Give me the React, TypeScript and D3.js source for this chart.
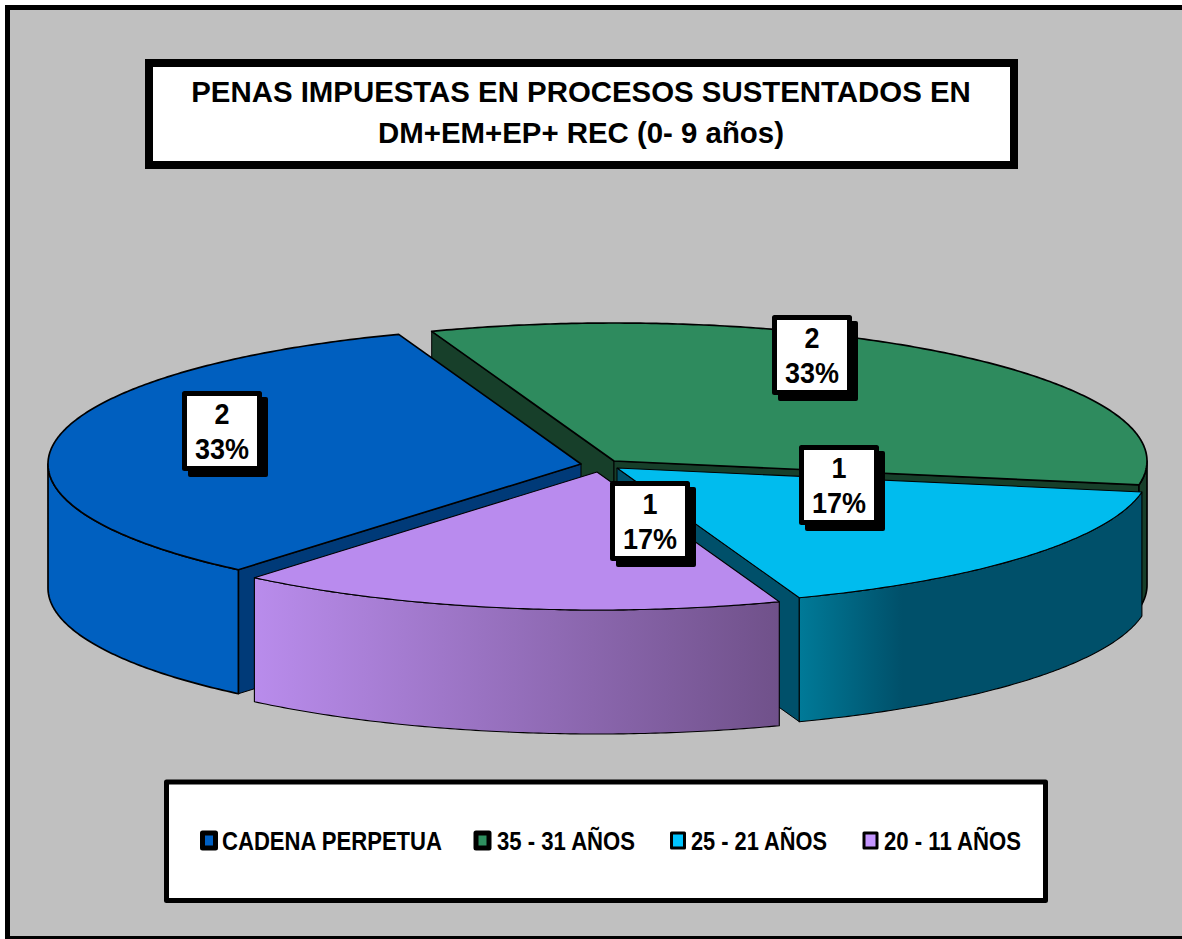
import React from "react";
import * as d3 from "d3";

const categories = ["CADENA PERPETUA", "35 - 31 AÑOS", "25 - 21 AÑOS", "20 - 11 AÑOS"];
const values = [2, 2, 1, 1];
const percentLabels = ["33%", "33%", "17%", "17%"];
const titleLines = ["PENAS IMPUESTAS EN PROCESOS SUSTENTADOS EN", "DM+EM+EP+ REC (0- 9 años)"];

const topColors = ["#005fbf", "#2e8b5e", "#00bcee", "#b98bee"];
const faceColors = ["#003a78", "#173f2a", "#00506a", "#715288"];
const legendColors = ["#0060c4", "#2f8f60", "#00c4ff", "#c596ff"];
const wallStops: [string, string][] = [["#0060c0", "#0060c0"], ["#173f2a", "#173f2a"], ["#007a98", "#00506a"], ["#b98cec", "#70518a"]];
const wallStopEnd = [1, 1, 0.3, 1];
const edgeWidths = [1.7, 1.7, 1.1, 1.1];

const apexes: [number, number][] = [[581, 464], [614, 461], [617, 468], [597, 472]];
const labelBoxes: [number, number][] = [[182, 391], [772, 315], [799, 445], [610, 481]];
const legendMarks = [200.5, 474, 669.5, 862];
const legendTexts: [number, number][] = [[222, 442], [497, 635], [691, 827], [884, 1021]];

const RX = 533, RY = 138, DEPTH = 124;
const pie = d3.pie<number>().sort(null).startAngle((220 * Math.PI) / 180).endAngle((580 * Math.PI) / 180);
const arcs = pie(values);
const lineGen = d3.line<[number, number]>().x(d => d[0]).y(d => d[1]);

const rimPoint = (i: number, a: number, dz = 0): [number, number] => [
  apexes[i][0] + RX * Math.sin(a),
  apexes[i][1] - RY * Math.cos(a) + dz,
];
const sample = (a0: number, a1: number) => {
  const n = Math.max(2, Math.ceil(Math.abs(a1 - a0) / 0.01));
  return d3.range(n + 1).map(k => a0 + ((a1 - a0) * k) / n);
};
const closed = (pts: [number, number][]) => lineGen(pts) + "Z";

const FONT = "'Liberation Sans', Arial, sans-serif";

function Slice({ i }: { i: number }) {
  const { startAngle: s, endAngle: e } = arcs[i];
  const top = closed([apexes[i], ...sample(s, e).map(a => rimPoint(i, a))]);
  const faces: string[] = [];
  const face = (a: number) => {
    const p = rimPoint(i, a);
    faces.push(closed([apexes[i], p, [p[0], p[1] + DEPTH], [apexes[i][0], apexes[i][1] + DEPTH]]));
  };
  if (Math.sin(s) < 0) face(s);
  if (Math.sin(e) > 0) face(e);

  // outer wall: the part of the rim facing down on the screen
  const lo = Math.PI / 2, hi = (3 * Math.PI) / 2;
  const walls: [number, number][] = [];
  [0, 2 * Math.PI].forEach(shift => {
    const a0 = Math.max(s, lo + shift), a1 = Math.min(e, hi + shift);
    if (a1 > a0) walls.push([a0, a1]);
  });
  return (
    <g>
      {faces.map((d, k) => (
        <path key={k} d={d} fill={faceColors[i]} stroke="#000" strokeWidth={1} strokeLinejoin="round" />
      ))}
      {walls.map(([a0, a1], k) => {
        const upper = sample(a0, a1).map(a => rimPoint(i, a));
        const lower = sample(a1, a0).map(a => rimPoint(i, a, DEPTH));
        const xs = upper.map(p => p[0]);
        const id = `wall${i}-${k}`;
        const ltr = i >= 2;
        return (
          <g key={k}>
            <defs>
              <linearGradient id={id} gradientUnits="userSpaceOnUse" x1={ltr ? d3.min(xs) : d3.max(xs)} x2={ltr ? d3.max(xs) : d3.min(xs)} y1={0} y2={0}>
                <stop offset="0" stopColor={wallStops[i][0]} />
                <stop offset={wallStopEnd[i]} stopColor={wallStops[i][1]} />
              </linearGradient>
            </defs>
            <path d={closed([...upper, ...lower])} fill={`url(#${id})`} stroke="#000" strokeWidth={edgeWidths[i]} strokeLinejoin="round" />
          </g>
        );
      })}
      <path d={top} fill={topColors[i]} stroke="#000" strokeWidth={edgeWidths[i]} strokeLinejoin="round" />
    </g>
  );
}

function DataLabel({ i }: { i: number }) {
  const [x, y] = labelBoxes[i];
  const W = 80, H = 80;
  const cx = x + W / 2;
  return (
    <g>
      <rect x={x + 6} y={y + 6} width={W} height={H} rx={2} fill="#000" />
      <rect x={x + 2.5} y={y + 2.5} width={W - 5} height={H - 5} fill="#fff" stroke="#000" strokeWidth={5} strokeLinejoin="round" />
      {[String(values[i]), percentLabels[i]].map((t, k) => (
        <text key={k} transform={`translate(${cx},${y + 33 + k * 35}) scale(0.9,1)`} textAnchor="middle" fontFamily={FONT} fontWeight={700} fontSize={30} fill="#000">
          {t}
        </text>
      ))}
    </g>
  );
}

export default function App() {
  const drawOrder = [1, 0, 2, 3];
  return (
    <svg width={1182} height={939} viewBox="0 0 1182 939" style={{ position: "absolute", left: 0, top: 0, display: "block" }}>
      <rect x={0} y={0} width={1182} height={939} fill="#fff" />
      <rect x={5} y={5} width={1182} height={934} fill="#000" />
      <rect x={10} y={10} width={1172} height={926} fill="#c0c0c0" />

      <rect x={149} y={63} width={865} height={102} fill="#fff" stroke="#000" strokeWidth={8} />
      {titleLines.map((t, k) => (
        <text key={k} x={581} y={102 + k * 41} textAnchor="middle" fontFamily={FONT} fontWeight={700} fontSize={29.4} fill="#000">
          {t}
        </text>
      ))}

      {drawOrder.map(i => <Slice key={i} i={i} />)}
      {drawOrder.map(i => <DataLabel key={i} i={i} />)}

      <rect x={166.5} y={782} width={879} height={118.5} fill="#fff" stroke="#000" strokeWidth={5} strokeLinejoin="round" />
      {categories.map((c, i) => (
        <g key={c}>
          <rect x={legendMarks[i] + 2} y={833} width={13} height={15} fill={legendColors[i]} stroke="#000" strokeWidth={i < 2 ? 5 : 3} strokeLinejoin="round" />
          <text x={legendTexts[i][0]} y={850} textLength={legendTexts[i][1] - legendTexts[i][0]} lengthAdjust="spacingAndGlyphs" fontFamily={FONT} fontWeight={700} fontSize={26} fill="#000">
            {c}
          </text>
        </g>
      ))}
    </svg>
  );
}
